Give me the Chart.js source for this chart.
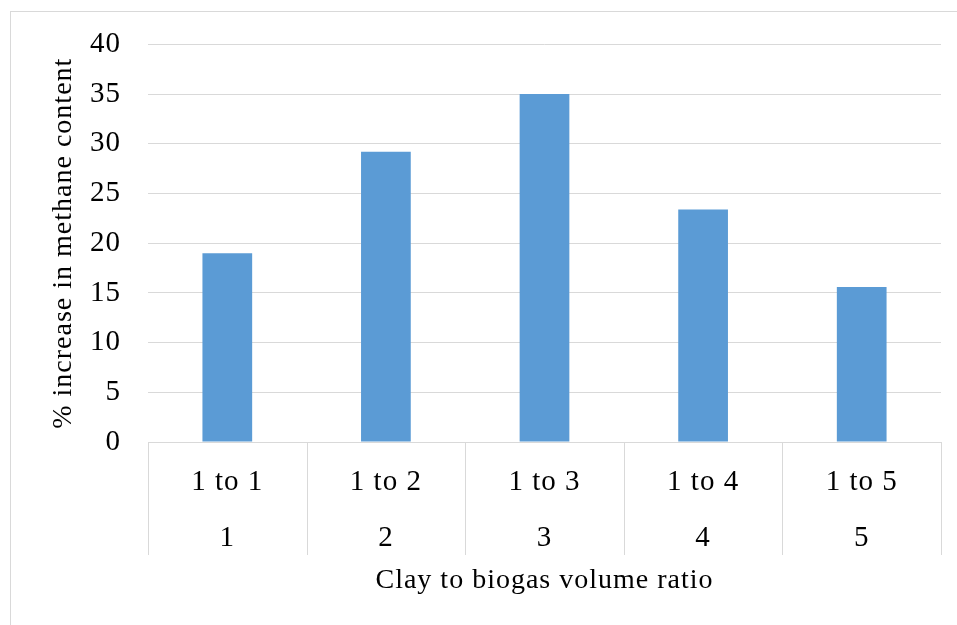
<!DOCTYPE html>
<html>
<head>
<meta charset="utf-8">
<script src="https://cdn.jsdelivr.net/npm/chart.js@4/dist/chart.umd.min.js"></script>
<style>
  html, body { margin: 0; padding: 0; background: #ffffff; }
  #wrap { width: 957px; height: 625px; position: relative; }
</style>
</head>
<body>
<div id="wrap"><canvas id="c" width="957" height="625"></canvas></div>
<script>
// ---- data ----
const ratioLabels = ["1 to 1", "1 to 2", "1 to 3", "1 to 4", "1 to 5"];
const levelLabels = ["1", "2", "3", "4", "5"];
const methaneIncrease = [19.0, 29.2, 35.0, 23.4, 15.6];
const yTickValues = [0, 5, 10, 15, 20, 25, 30, 35, 40];
const yAxisTitle = "% increase in methane content";
const xAxisTitle = "Clay to biogas volume ratio";

const GRID = "#d9d9d9";
const FONT = "'Liberation Serif', 'Times New Roman', serif";

const categoryLabels = ratioLabels.map((r, i) => [r, levelLabels[i]]);

const framePlugin = {
  id: "frame",
  beforeDraw(chart) {
    const ctx = chart.ctx;
    ctx.save();
    ctx.fillStyle = "#ffffff";
    ctx.fillRect(0, 0, chart.width, chart.height);
    ctx.strokeStyle = GRID;
    ctx.lineWidth = 1;
    ctx.strokeRect(10.5, 11.5, 2000, 2000);
    ctx.restore();
    ctx.letterSpacing = "1px";
  }
};

const dividerPlugin = {
  id: "dividers",
  afterDraw(chart) {
    const x = chart.scales.x;
    const ctx = chart.ctx;
    const top = chart.chartArea.bottom;
    ctx.save();
    ctx.strokeStyle = GRID;
    ctx.lineWidth = 1;
    ctx.beginPath();
    for (let i = 0; i <= ratioLabels.length; i++) {
      const px = Math.round(x.getPixelForValue(i - 0.5)) + 0.5;
      ctx.moveTo(px, top);
      ctx.lineTo(px, top + 113);
    }
    ctx.stroke();
    ctx.restore();
  }
};

new Chart(document.getElementById("c"), {
  type: "bar",
  data: {
    labels: categoryLabels,
    datasets: [{
      data: methaneIncrease,
      backgroundColor: "#5b9bd5",
      borderWidth: 0,
      categoryPercentage: 1,
      barPercentage: 0.3135
    }]
  },
  options: {
    responsive: false,
    animation: false,
    devicePixelRatio: 1,
    layout: { padding: { top: 42, right: 16, bottom: 0, left: 0 } },
    plugins: { legend: { display: false }, tooltip: { enabled: false } },
    scales: {
      x: {
        type: "category",
        offset: true,
        grid: { display: false, drawTicks: false },
        border: { display: true, color: GRID, width: 1 },
        ticks: {
          color: "#000000",
          font: { family: FONT, size: 29, lineHeight: 56 / 29 },
          padding: 12,
          maxRotation: 0,
          autoSkip: false
        },
        title: {
          display: true,
          text: xAxisTitle,
          color: "#000000",
          font: { family: FONT, size: 28 },
          padding: { top: 0, bottom: 28 }
        },
        afterFit(scale) { scale.height = 183; }
      },
      y: {
        min: 0,
        max: 40,
        afterBuildTicks(scale) { scale.ticks = yTickValues.map(v => ({ value: v })); },
        grid: { color: GRID, lineWidth: 1, drawTicks: false },
        border: { display: false },
        ticks: {
          color: "#000000",
          font: { family: FONT, size: 29 },
          padding: 27
        },
        title: {
          display: true,
          text: yAxisTitle,
          color: "#000000",
          font: { family: FONT, size: 28 },
          padding: { top: 47, bottom: 0 }
        },
        afterFit(scale) { scale.width = 148; }
      }
    }
  },
  plugins: [framePlugin, dividerPlugin]
});
</script>
</body>
</html>
